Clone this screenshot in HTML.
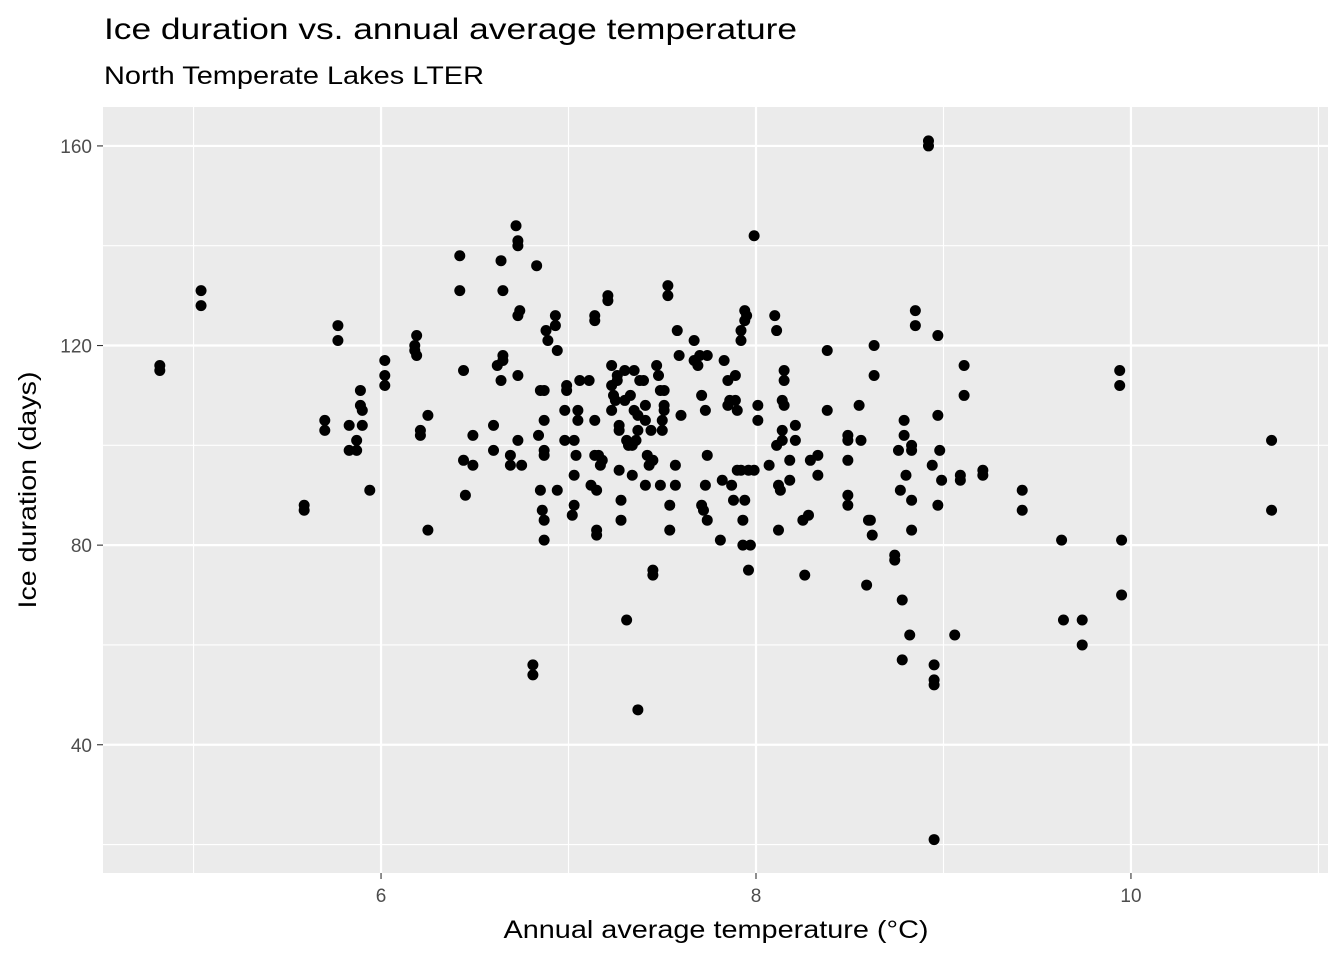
<!DOCTYPE html>
<html><head><meta charset="utf-8"><style>
html,body{margin:0;padding:0;background:#fff;}
svg{display:block;font-family:"Liberation Sans",Arial,sans-serif;}
</style></head><body>
<svg id="chart" width="1344" height="960" viewBox="0 0 1344 960" xmlns="http://www.w3.org/2000/svg">
<text x="104" y="39" font-size="30" fill="#000" textLength="693" lengthAdjust="spacingAndGlyphs">Ice duration vs. annual average temperature</text>
<text x="104" y="84" font-size="25" fill="#000" textLength="380" lengthAdjust="spacingAndGlyphs">North Temperate Lakes LTER</text>
<rect x="103" y="107" width="1225" height="766" fill="#ebebeb"/>
<g id="grid"></g>
<g id="points"></g>
<g id="axes"></g>
<text x="716" y="938" font-size="25" text-anchor="middle" fill="#000" textLength="425" lengthAdjust="spacingAndGlyphs">Annual average temperature (°C)</text>
<text transform="translate(36,490) rotate(-90)" font-size="25" text-anchor="middle" fill="#000" textLength="237" lengthAdjust="spacingAndGlyphs">Ice duration (days)</text>
</svg>
<script>
const temps=[4.82,4.82,5.04,5.04,5.59,5.59,5.70,5.70,5.77,5.77,5.83,5.83,5.87,5.87,5.89,5.89,5.90,5.90,5.94,6.02,6.02,6.02,6.19,6.18,6.18,6.19,6.21,6.21,6.25,6.25,6.42,6.42,6.44,6.44,6.45,6.49,6.49,6.60,6.60,6.62,6.64,6.65,6.65,6.64,6.65,6.69,6.69,6.72,6.73,6.73,6.73,6.73,6.73,6.74,6.75,6.81,6.81,6.83,6.84,6.85,6.85,6.86,6.87,6.87,6.87,6.87,6.87,6.87,6.88,6.89,6.93,6.93,6.94,6.94,6.98,6.98,6.99,6.99,7.02,7.03,7.03,7.03,7.04,7.05,7.05,7.06,7.11,7.12,7.14,7.14,7.14,7.14,7.15,7.15,7.15,7.16,7.17,7.18,7.21,7.21,7.23,7.23,7.23,7.24,7.25,7.26,7.26,7.27,7.27,7.27,7.28,7.28,7.30,7.30,7.31,7.31,7.32,7.33,7.34,7.34,7.35,7.35,7.36,7.37,7.37,7.37,7.38,7.40,7.41,7.41,7.41,7.42,7.43,7.44,7.45,7.45,7.45,7.47,7.48,7.49,7.49,7.50,7.50,7.51,7.51,7.51,7.53,7.53,7.54,7.54,7.57,7.57,7.58,7.59,7.60,7.67,7.67,7.69,7.70,7.71,7.71,7.72,7.73,7.73,7.74,7.74,7.74,7.81,7.82,7.83,7.85,7.85,7.86,7.87,7.88,7.89,7.89,7.90,7.90,7.92,7.92,7.92,7.93,7.93,7.94,7.94,7.94,7.95,7.96,7.96,7.97,7.99,7.99,8.01,8.01,8.07,8.10,8.11,8.11,8.12,8.12,8.13,8.14,8.14,8.14,8.15,8.15,8.15,8.18,8.18,8.21,8.21,8.25,8.26,8.28,8.29,8.33,8.33,8.38,8.38,8.49,8.49,8.49,8.49,8.49,8.55,8.56,8.59,8.60,8.61,8.62,8.63,8.63,8.74,8.74,8.76,8.77,8.78,8.78,8.79,8.79,8.80,8.82,8.83,8.83,8.83,8.83,8.85,8.85,8.92,8.92,8.94,8.95,8.95,8.95,8.95,8.97,8.97,8.97,8.98,8.99,9.06,9.09,9.09,9.11,9.11,9.21,9.21,9.42,9.42,9.63,9.64,9.74,9.74,9.94,9.94,9.95,9.95,10.75,10.75];
const iceDays=[116,115,131,128,88,87,105,103,124,121,104,99,101,99,111,108,107,104,91,117,114,112,122,120,119,118,103,102,106,83,138,131,115,97,90,102,96,104,99,116,137,118,117,113,131,98,96,144,141,140,114,101,126,127,96,56,54,136,102,111,91,87,105,111,85,81,99,98,123,121,126,124,119,91,101,107,112,111,86,88,94,101,98,105,107,113,113,92,98,126,125,105,91,83,82,98,96,97,130,129,116,112,107,110,109,113,114,95,104,103,89,85,115,109,101,65,100,110,94,100,107,115,101,47,106,103,113,113,108,92,105,98,96,103,75,74,97,116,114,111,92,103,105,108,107,111,132,130,88,83,92,96,123,118,106,121,117,116,118,110,88,87,107,92,98,118,85,81,93,117,113,108,109,92,89,114,109,95,107,121,123,95,85,80,127,125,89,126,95,75,80,95,142,105,108,96,126,123,100,83,92,91,101,103,109,108,113,115,97,93,104,101,85,74,86,97,94,98,119,107,102,97,101,90,88,108,101,72,85,85,82,120,114,78,77,99,91,69,57,105,102,94,62,99,100,89,83,127,124,161,160,96,56,53,52,21,106,88,122,99,93,62,94,93,116,110,95,94,91,87,81,65,65,60,115,112,81,70,101,87];
const xTicks=[6,8,10];
const xMinor=[5,7,9,11];
const yTicks=[40,80,120,160];
const yMinor=[20,60,100,140];

const L=103,R=1328,T=107,B=873;
const xMin=4.517,xMax=11.051,yMin=14.3,yMax=167.8;
function sx(v){return L+(v-xMin)/(xMax-xMin)*(R-L);}
function sy(v){return B-(v-yMin)/(yMax-yMin)*(B-T);}
const NS="http://www.w3.org/2000/svg";
function mk(tag,attrs,parent){const e=document.createElementNS(NS,tag);for(const k in attrs)e.setAttribute(k,attrs[k]);parent.appendChild(e);return e;}
const grid=document.getElementById('grid'),axes=document.getElementById('axes'),pts=document.getElementById('points');
xMinor.forEach(v=>{const x=sx(v);if(x<L||x>R)return;const l=mk('line',{x1:x,x2:x,y1:T,y2:B,stroke:'#fff','stroke-width':1.1},grid);

});
yMinor.forEach(v=>{const y=sy(v);const l=mk('line',{x1:L,x2:R,y1:y,y2:y,stroke:'#fff','stroke-width':1.1},grid);

});
xTicks.forEach(v=>{const x=sx(v);const l=mk('line',{x1:x,x2:x,y1:T,y2:B,stroke:'#fff','stroke-width':2.2},grid);


const t=mk('line',{x1:x,x2:x,y1:B,y2:B+6,stroke:'#333','stroke-width':1.1},axes);


const tx=mk('text',{x:x,y:B+29,'font-size':19,'text-anchor':'middle',fill:'#4d4d4d'},axes);tx.textContent=v;

});
yTicks.forEach(v=>{const y=sy(v);const l=mk('line',{x1:L,x2:R,y1:y,y2:y,stroke:'#fff','stroke-width':2.2},grid);


const t=mk('line',{x1:L-6,x2:L,y1:y,y2:y,stroke:'#333','stroke-width':1.1},axes);


const tx=mk('text',{x:L-11,y:y+7,'font-size':19,'text-anchor':'end',fill:'#4d4d4d'},axes);tx.textContent=v;

});
temps.forEach((t,i)=>{const c=mk('circle',{cx:sx(t),cy:sy(iceDays[i]),r:5.5,fill:'#000'},pts);

});
</script>
</body></html>
